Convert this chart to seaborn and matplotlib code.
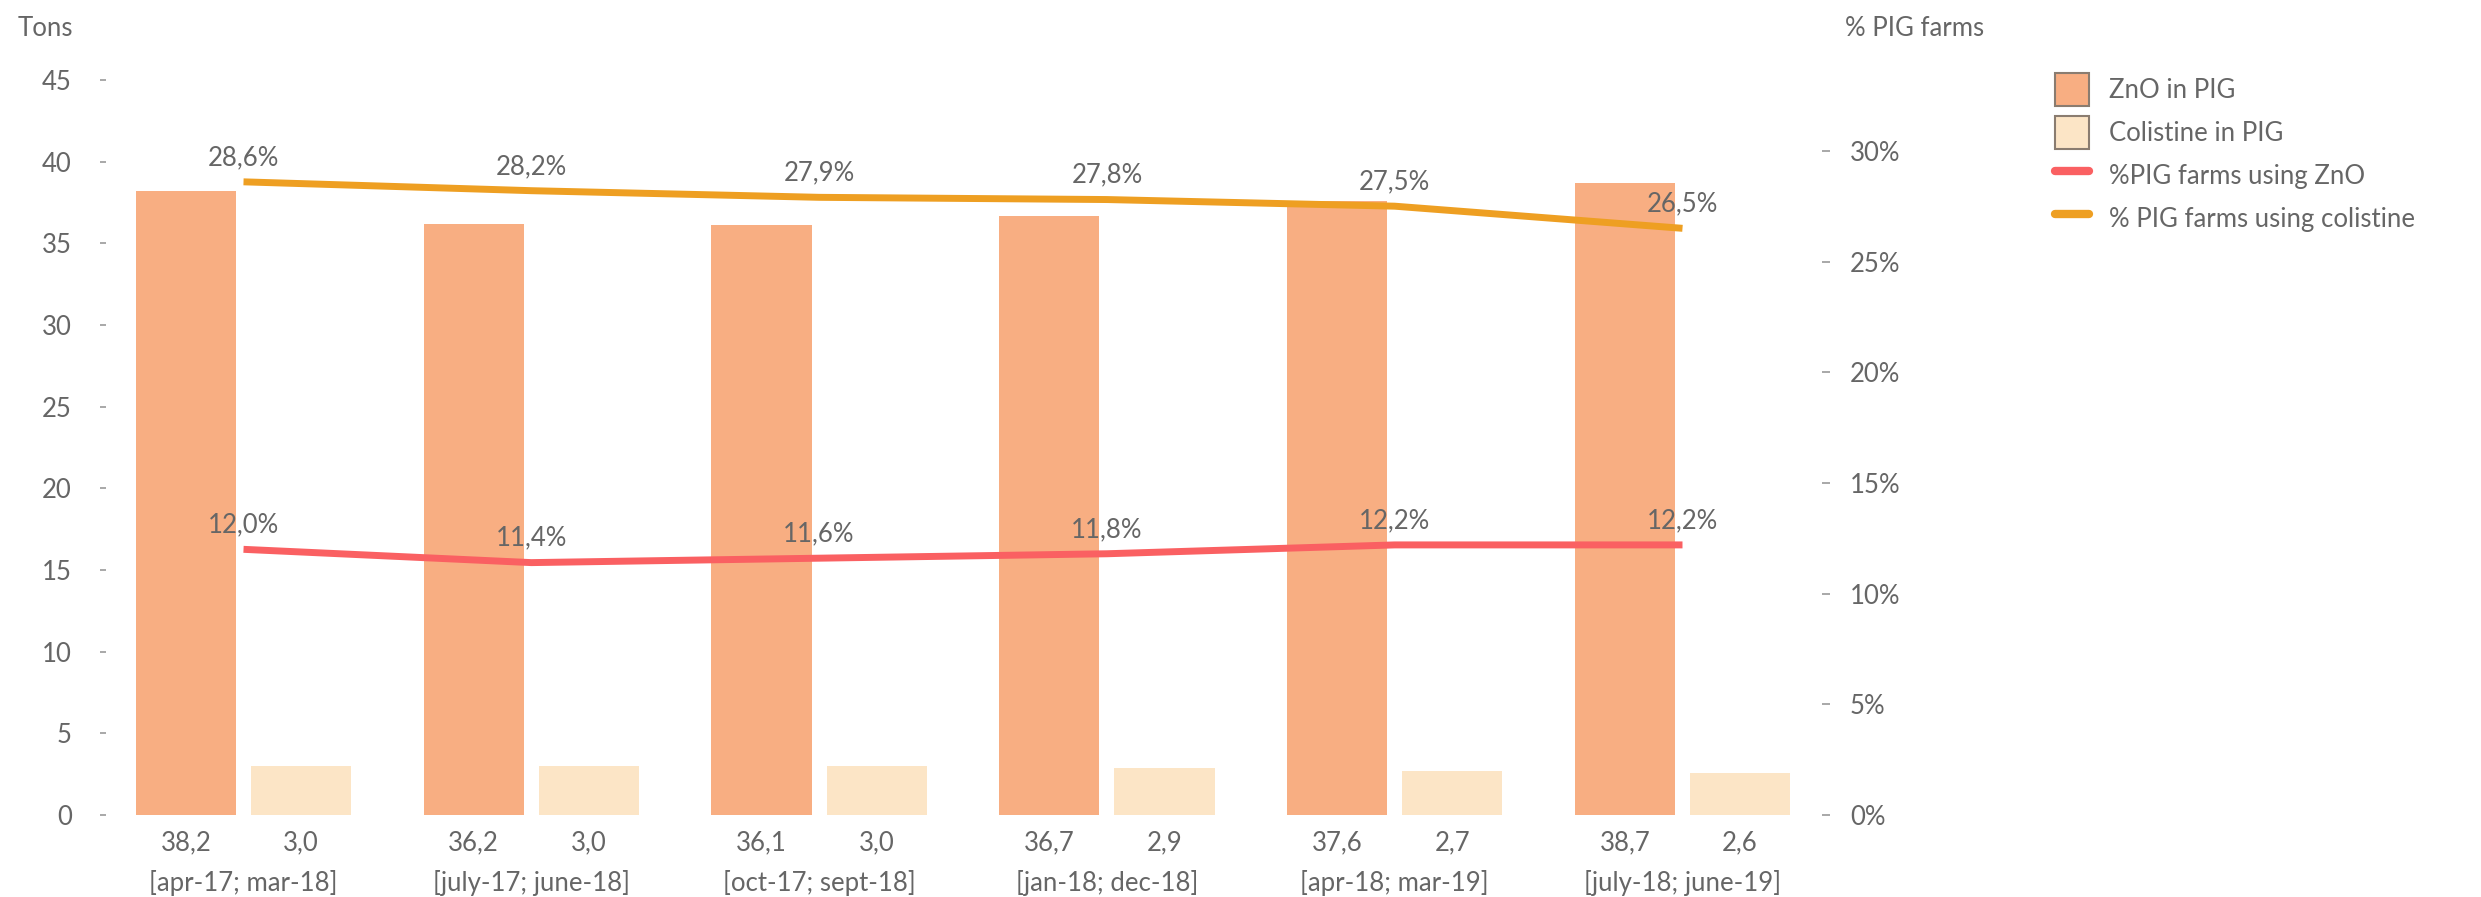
import numpy as np
import pandas as pd
import matplotlib
matplotlib.use("Agg")
import matplotlib.pyplot as plt
import matplotlib.transforms as mtransforms
from matplotlib.patches import Patch
from matplotlib.lines import Line2D
import seaborn as sns

# ---- data ----
periods = ["[apr-17; mar-18]", "[july-17; june-18]", "[oct-17; sept-18]",
           "[jan-18; dec-18]", "[apr-18; mar-19]", "[july-18; june-19]"]
zno_tons = [38.2, 36.2, 36.1, 36.7, 37.6, 38.7]
colistine_tons = [3.0, 3.0, 3.0, 2.9, 2.7, 2.6]
pct_farms_zno = [12.0, 11.4, 11.6, 11.8, 12.2, 12.2]
pct_farms_colistine = [28.6, 28.2, 27.9, 27.8, 27.5, 26.5]
series_names = ["ZnO in PIG", "Colistine in PIG"]
line_names = ["%PIG farms using ZnO", "% PIG farms using colistine"]
left_ticks = [0, 5, 10, 15, 20, 25, 30, 35, 40, 45]
right_ticks = [0, 5, 10, 15, 20, 25, 30]

# ---- style ----
sns.set_theme(style="white")
plt.rcParams["font.family"] = ["Lato", "DejaVu Sans"]
FS = 18.5
TXT = "#666666"
C_ZNO = "#F8AE82"
C_COL = "#FCE5C6"
C_LZNO = "#FA6062"
C_LCOL = "#EE9F22"

fig = plt.figure(figsize=(24.81, 8.97), dpi=100)
ax = fig.add_axes([0.04015, 0.09142, 0.6960, 0.8194])

bars = pd.DataFrame({
    "period": periods * 2,
    "tons": zno_tons + colistine_tons,
    "series": [series_names[0]] * 6 + [series_names[1]] * 6,
})
sns.barplot(data=bars, x="period", y="tons", hue="series", order=periods,
            hue_order=series_names, palette=[C_ZNO, C_COL], width=0.8,
            gap=0.13, legend=False, ax=ax, saturation=1, linewidth=0)

ax.set_xlim(-0.5, 5.5)
ax.set_ylim(0, 45)
ax.set_yticks(left_ticks)
ax.set_yticklabels([str(t) for t in left_ticks], fontsize=FS, color=TXT)
ax.tick_params(axis="y", which="both", left=True, direction="in", length=4,
               width=1.2, color="#999999", pad=20)
ax.set_xticks([])
ax.set_xlabel("")
ax.set_ylabel("")
for s in ax.spines.values():
    s.set_visible(False)

# value labels and period labels under bars
trans = mtransforms.blended_transform_factory(ax.transData, ax.transAxes)
for i in range(len(periods)):
    ax.annotate(f"{zno_tons[i]:.1f}".replace(".", ","), xy=(i - 0.2, 0), xycoords=trans,
                xytext=(0, -20), textcoords="offset points", ha="center", va="center",
                fontsize=FS, color=TXT)
    ax.annotate(f"{colistine_tons[i]:.1f}".replace(".", ","), xy=(i + 0.2, 0), xycoords=trans,
                xytext=(0, -20), textcoords="offset points", ha="center", va="center",
                fontsize=FS, color=TXT)
    ax.annotate(periods[i], xy=(i, 0), xycoords=trans,
                xytext=(0, -49), textcoords="offset points", ha="center", va="center",
                fontsize=FS, color=TXT)

# secondary axis lines
ax2 = ax.twinx()
lines = pd.DataFrame({
    "x": list(range(6)) * 2,
    "pct": pct_farms_zno + pct_farms_colistine,
    "series": [line_names[0]] * 6 + [line_names[1]] * 6,
})
sns.lineplot(data=lines, x="x", y="pct", hue="series", hue_order=line_names,
             palette=[C_LZNO, C_LCOL], linewidth=5, legend=False, ax=ax2,
             solid_capstyle="butt")
ax2.set_xlim(-0.5, 5.5)
ax2.set_ylim(0, 33.2)
ax2.set_yticks(right_ticks)
ax2.set_yticklabels([f"{t}%" for t in right_ticks], fontsize=FS, color=TXT)
ax2.tick_params(axis="y", which="both", right=True, direction="inout", length=6,
                width=1.2, color="#999999", pad=14)
ax2.set_xlabel("")
ax2.set_ylabel("")
for s in ax2.spines.values():
    s.set_visible(False)

for vals in (pct_farms_zno, pct_farms_colistine):
    for i, v in enumerate(vals):
        ax2.annotate(f"{v:.1f}%".replace(".", ","), xy=(i, v), xytext=(0, 17.5),
                     textcoords="offset points", ha="center", va="center",
                     fontsize=FS, color=TXT)

# axis titles
fig.text(18 / 2481, 1 - 28 / 897, "Tons", fontsize=FS, color=TXT, ha="left", va="center")
fig.text(1845 / 2481, 1 - 28 / 897, "% PIG farms", fontsize=FS, color=TXT, ha="left", va="center")

# legend
handles = [
    Patch(facecolor=C_ZNO, edgecolor="#8a7c70", linewidth=1.5),
    Patch(facecolor=C_COL, edgecolor="#8a7c70", linewidth=1.5),
    Line2D([0], [0], color=C_LZNO, linewidth=6),
    Line2D([0], [0], color=C_LCOL, linewidth=6),
]
leg = fig.legend(handles, series_names + line_names, loc="upper left",
                 bbox_to_anchor=(2045 / 2481, 1 - 63 / 897), frameon=False,
                 fontsize=FS, labelcolor=TXT, handlelength=1.3, handleheight=1.6,
                 handletextpad=0.8, labelspacing=0.38, borderaxespad=0)

fig.savefig("out.png", dpi=100, facecolor="white")
